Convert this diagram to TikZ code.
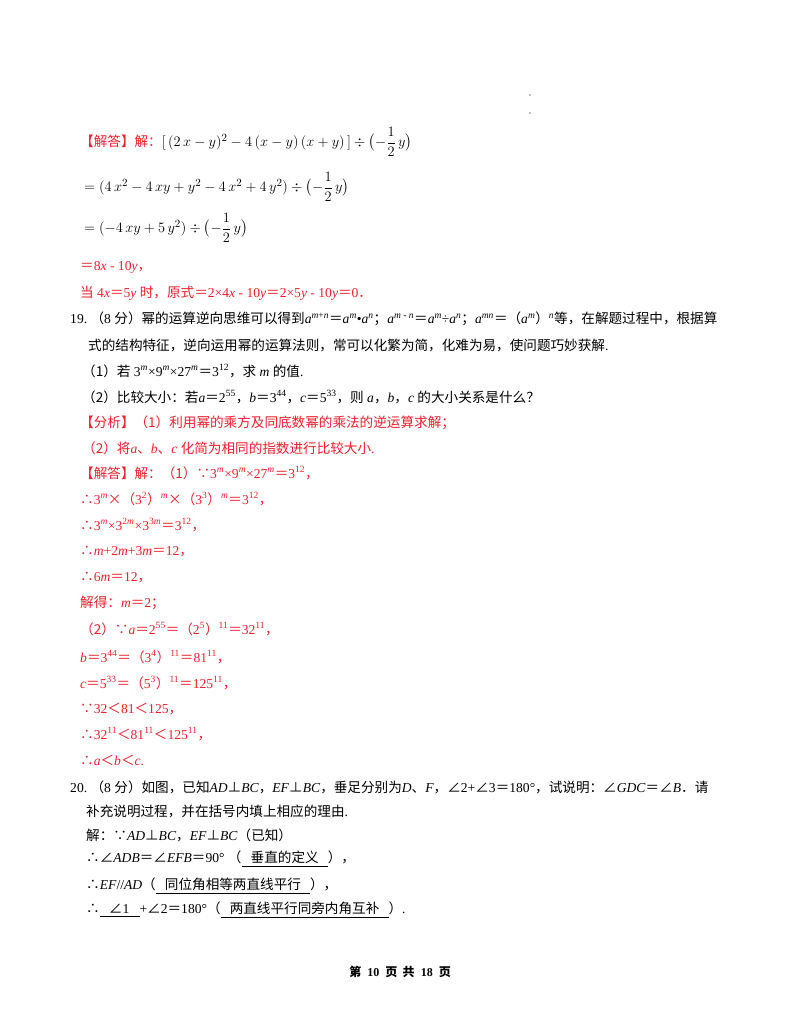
\documentclass[tikz,border=0pt]{standalone}
\usepackage{amsmath}
\usepackage{fontspec}
\setmainfont{Liberation Serif}
\newfontfamily\cjk{Noto Sans CJK SC}
\newcommand{\zh}[1]{{\cjk #1}}
\newcommand{\up}[1]{\textsuperscript{#1}}
\newcommand{\iv}[1]{\textit{#1}}
\definecolor{ans}{HTML}{F0202A}
\begin{document}
\begin{tikzpicture}[x=1pt,y=-1pt,
  t/.style={anchor=west,inner sep=0pt,font=\fontsize{13.6}{16}\selectfont},
  f/.style={anchor=west,inner sep=0pt,font=\fontsize{15.5}{18}\selectfont},
  r/.style={t,text=ans}]
\useasboundingbox (0,0) rectangle (800,1035);
\fill[white] (0,0) rectangle (800,1035);
\fill (530,95) circle (0.6);
\fill (530,113) circle (0.6);
% top answer
\node[f] (l1) at (80,142) {\textcolor{ans}{\fontsize{13.6}{16}\selectfont\zh{【解答】解：}}$[\,(2\,x-y)^2-4\,(x-y)\,(x+y)\,]\div\bigl(-\dfrac{1}{2}\,y\bigr)$};
\node[f] (l2) at (84,187) {$=(4\,x^2-4\,xy+y^2-4\,x^2+4\,y^2)\div\bigl(-\dfrac{1}{2}\,y\bigr)$};
\node[f] (l3) at (84,228) {$=(-4\,xy+5\,y^2)\div\bigl(-\dfrac{1}{2}\,y\bigr)$};
\node[r] (l4) at (80,267) {\zh{＝}8\iv{x} - 10\iv{y}\zh{，}};
\node[r] (l5) at (80,293) {\zh{当} 4\iv{x}\zh{＝}5\iv{y} \zh{时，原式＝}2×4\iv{x} - 10\iv{y}\zh{＝}2×5\iv{y} - 10\iv{y}\zh{＝}0\zh{．}};
% 19
\node[t] (q1) at (70,319) {19.\ \zh{（}8 \zh{分）幂的运算逆向思维可以得到}\iv{a}\up{\iv{m}+\iv{n}}\zh{＝}\iv{a}\up{\iv{m}}•\iv{a}\up{\iv{n}}\zh{；}\iv{a}\up{\iv{m} - \iv{n}}\zh{＝}\iv{a}\up{\iv{m}}÷\iv{a}\up{\iv{n}}\zh{；}\iv{a}\up{\iv{mn}}\zh{＝（}\iv{a}\up{\iv{m}}\zh{）}\up{\iv{n}}\zh{等，在解题过程中，根据算}};
\node[t] (q2) at (88,345) {\zh{式的结构特征，逆向运用幂的运算法则，常可以化繁为简，化难为易，使问题巧妙获解}.};
\node[t] (q3) at (82,371) {\zh{（1）若} 3\up{\iv{m}}×9\up{\iv{m}}×27\up{\iv{m}}\zh{＝}3\up{12}\zh{，求} \iv{m} \zh{的值}.};
\node[t] (q4) at (82,397) {\zh{（2）比较大小：若}\iv{a}\zh{＝}2\up{55}\zh{，}\iv{b}\zh{＝}3\up{44}\zh{，}\iv{c}\zh{＝}5\up{33}\zh{，则} \iv{a}\zh{，}\iv{b}\zh{，}\iv{c} \zh{的大小关系是什么？}};
\node[r] (a1) at (80,423) {\zh{【分析】（1）利用幂的乘方及同底数幂的乘法的逆运算求解；}};
\node[r] (a2) at (82,448) {\zh{（2）将}\iv{a}\zh{、}\iv{b}\zh{、}\iv{c} \zh{化简为相同的指数进行比较大小}.};
\node[r] (a3) at (80,473) {\zh{【解答】解：（1）∵}3\up{\iv{m}}×9\up{\iv{m}}×27\up{\iv{m}}\zh{＝}3\up{12}\zh{，}};
\node[r] (a4) at (80,499) {\zh{∴}3\up{\iv{m}}\zh{×（}3\up{2}\zh{）}\up{\iv{m}}\zh{×（}3\up{3}\zh{）}\up{\iv{m}}\zh{＝}3\up{12}\zh{，}};
\node[r] (a5) at (80,525) {\zh{∴}3\up{\iv{m}}×3\up{2\iv{m}}×3\up{3\iv{m}}\zh{＝}3\up{12}\zh{，}};
\node[r] (a6) at (80,552) {\zh{∴}\iv{m}+2\iv{m}+3\iv{m}\zh{＝}12\zh{，}};
\node[r] (a7) at (80,578) {\zh{∴}6\iv{m}\zh{＝}12\zh{，}};
\node[r] (a8) at (80,603) {\zh{解得：}\iv{m}\zh{＝}2\zh{；}};
\node[r] (a9) at (80,629) {\zh{（2）∵}\iv{a}\zh{＝}2\up{55}\zh{＝（}2\up{5}\zh{）}\up{11}\zh{＝}32\up{11}\zh{，}};
\node[r] (a10) at (80,657) {\iv{b}\zh{＝}3\up{44}\zh{＝（}3\up{4}\zh{）}\up{11}\zh{＝}81\up{11}\zh{，}};
\node[r] (a11) at (80,683) {\iv{c}\zh{＝}5\up{33}\zh{＝（}5\up{3}\zh{）}\up{11}\zh{＝}125\up{11}\zh{，}};
\node[r] (a12) at (80,709) {\zh{∵}32\zh{＜}81\zh{＜}125\zh{，}};
\node[r] (a13) at (80,734) {\zh{∴}32\up{11}\zh{＜}81\up{11}\zh{＜}125\up{11}\zh{，}};
\node[r] (a14) at (80,760) {\zh{∴}\iv{a}\zh{＜}\iv{b}\zh{＜}\iv{c}.};
% 20
\node[t] (p1) at (70,787) {20.\ \zh{（}8 \zh{分）如图，已知}\iv{AD}\zh{⊥}\iv{BC}\zh{，}\iv{EF}\zh{⊥}\iv{BC}\zh{，垂足分别为}\iv{D}\zh{、}\iv{F}\zh{，∠}2+\zh{∠}3\zh{＝}180°\zh{，试说明：∠}\iv{GDC}\zh{＝∠}\iv{B}\zh{．请}};
\node[t] (p2) at (86,811) {\zh{补充说明过程，并在括号内填上相应的理由}.};
\node[t] (p3) at (86,835) {\zh{解：∵}\iv{AD}\zh{⊥}\iv{BC}\zh{，}\iv{EF}\zh{⊥}\iv{BC}\zh{（已知）}};
\node[t] (p4) at (86,859) {\zh{∴∠}\iv{ADB}\zh{＝∠}\iv{EFB}\zh{＝}90°\ \zh{（}\underline{\zh{\ \ \ 垂直的定义\ \ \ }}\zh{），}};
\node[t] (p5) at (86,886) {\zh{∴}\iv{EF}//\iv{AD}\zh{（}\underline{\zh{\ \ \ 同位角相等两直线平行\ \ \ }}\zh{），}};
\node[t] (p6) at (86,910) {\zh{∴}\underline{\zh{\ \ \ ∠}1\ \ \ }+\zh{∠}2\zh{＝}180°\zh{（}\underline{\zh{\ \ \ 两直线平行同旁内角互补\ \ \ }}\zh{）}.};
\node[t,anchor=center,font=\fontsize{12}{14}\selectfont\bfseries] (ft) at (400,972) {\zh{\bfseries 第}\ \ 10\ \ \zh{\bfseries 页\ \ 共}\ \ 18\ \ \zh{\bfseries 页}};
\end{tikzpicture}
\end{document}
